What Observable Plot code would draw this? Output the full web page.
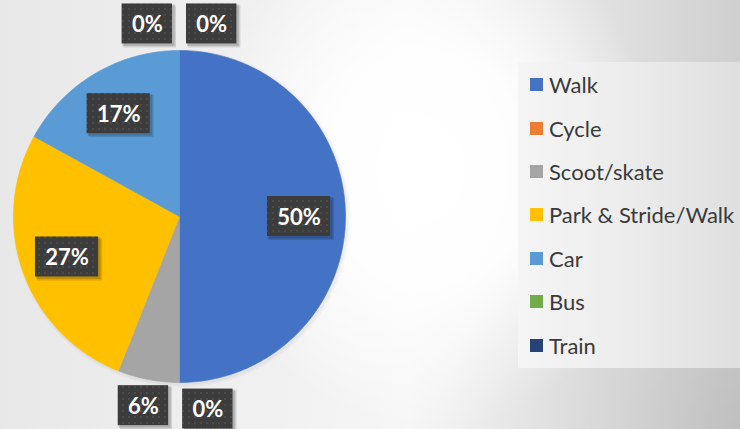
<!DOCTYPE html>
<html>
<head>
<meta charset="utf-8">
<script src="https://cdn.jsdelivr.net/npm/d3@7"></script>
<script src="https://cdn.jsdelivr.net/npm/@observablehq/plot@0.6"></script>
<style>
  html, body { margin: 0; padding: 0; }
  #wrap {
    position: relative; width: 740px; height: 429px; overflow: hidden;
    background:
      radial-gradient(ellipse 230px 260px at 430px 170px, rgba(255,255,255,1) 0%, rgba(255,255,255,0.9) 45%, rgba(255,255,255,0) 100%),
      linear-gradient(to right, #e8e8e8 0%, #f0f0f0 35%, #f6f6f6 55%, #dedede 85%, #cfcfcf 100%);
  }
  #wrap::after {
    content: ""; position: absolute; left: 0; top: 0; width: 740px; height: 429px; pointer-events: none;
    background: radial-gradient(ellipse 300px 260px at 740px 429px, rgba(0,0,0,0.08) 0%, rgba(0,0,0,0) 100%);
  }
  #chart svg { display: block; background: transparent !important; }
  #legend {
    position: absolute; left: 518px; top: 62px; width: 222px; height: 306px;
    background: linear-gradient(to right, #f5f5f5 0%, #ececec 50%, #dfdfdf 100%);
    box-sizing: border-box; padding: 1px 0 0 12px; z-index: 1;
  }
  #legend .lg-swatches, #legend .lg-swatches-wrap, #legend > div {
    display: flex !important; flex-direction: column !important; align-items: flex-start !important;
    margin: 0 !important; min-height: 0 !important;
  }
  #legend .lg-swatch {
    display: flex !important; align-items: center !important; height: 43.4px; margin: 0 !important;
    font-family: Lato, "Open Sans", sans-serif !important; font-size: 22px !important; color: #3a3a3a !important;
    white-space: nowrap;
  }
  #legend .lg-swatch svg { margin-right: 6px !important; flex-shrink: 0; }
</style>
</head>
<body>
<div id="wrap">
  <div id="chart"></div>
  <div id="legend"></div>
</div>
<script>
// ---- data ----
const categories = ["Walk", "Cycle", "Scoot/skate", "Park & Stride/Walk", "Car", "Bus", "Train"];
const values = [50, 0, 6, 27, 17, 0, 0];
const colors = ["#4472c4", "#ed7d31", "#a5a5a5", "#ffc000", "#5b9bd5", "#70ad47", "#264478"];
const percentLabels = ["50%", "0%", "6%", "27%", "17%", "0%", "0%"];

// ---- layout ----
const W = 740, H = 429;
const cx = 179, cy = 216, R = 166;        // pixel centre and radius of the pie
const insideR = 0.72, outsideR = 1.16;   // label radii (in pie radii)
const boxH = 40, gap = 14;

const total = d3.sum(values);
const cum = d3.cumsum(values);
const slices = categories.map((c, i) => {
  const a0 = 2 * Math.PI * (cum[i] - values[i]) / total;
  const a1 = 2 * Math.PI * cum[i] / total;
  return {cat: c, value: values[i], label: percentLabels[i], a0, a1, mid: (a0 + a1) / 2};
});

// polygon outline of each slice (centre + arc), in pie-radius units
const slicePts = [];
for (const s of slices) {
  if (s.value <= 0) continue;
  const n = Math.max(2, Math.ceil((s.a1 - s.a0) / (Math.PI / 180)));
  slicePts.push({cat: s.cat, x: 0, y: 0});
  for (let k = 0; k <= n; ++k) {
    const a = s.a0 + (s.a1 - s.a0) * k / n;
    slicePts.push({cat: s.cat, x: Math.sin(a), y: Math.cos(a)});
  }
  slicePts.push({cat: s.cat, x: 0, y: 0});
}

// label placement: big slices inside, small ones outside; spread overlapping zero labels
const boxW = (t) => (t.length - 1) * 12.8 + 17.6 + 20;
const labels = slices.map(s => {
  const inside = s.value >= 10;
  const r = inside ? insideR : outsideR;
  return {...s, inside, px: R * r * Math.sin(s.mid), py: -R * r * Math.cos(s.mid), w: boxW(s.label)};
});
const placed = labels.filter(l => l.inside || l.value > 0);
const zeros = labels.filter(l => !l.inside && l.value === 0);
const clusters = d3.groups(zeros, l => Math.round(l.mid * 1000));
for (const [, cl] of clusters) {
  const n = cl.length;
  const step = cl[0].w + gap;
  cl.forEach((l, k) => { l.px += (k - (n - 1) / 2) * step; });
  for (const p of placed) {
    for (const l of cl) {
      if (Math.abs(l.px - p.px) < (l.w + p.w) / 2 + gap && Math.abs(l.py - p.py) < boxH) {
        const dir = l.px >= p.px ? 1 : -1;
        const target = p.px + dir * ((l.w + p.w) / 2 + gap);
        const shift = target - l.px;
        cl.forEach(m => { m.px += shift; });
      }
    }
  }
  placed.push(...cl);
}
const labelData = labels.map(l => ({
  label: l.label,
  x: l.px / R, y: -l.py / R,
  x1: (l.px - l.w / 2) / R, x2: (l.px + l.w / 2) / R,
  y1: (-l.py - boxH / 2) / R, y2: (-l.py + boxH / 2) / R
}));

const defs = () => {
  const d = d3.create("svg:defs");
  const p = d.append("pattern").attr("id", "dots").attr("width", 6).attr("height", 6)
    .attr("patternUnits", "userSpaceOnUse");
  p.append("rect").attr("width", 6).attr("height", 6).attr("fill", "#3c3c3c");
  p.append("rect").attr("x", 2).attr("y", 2).attr("width", 2).attr("height", 2).attr("fill", "#4c4c4c");
  return d.node();
};

const unit = 1 / R;
const chart = Plot.plot({
  width: W, height: H,
  margin: 0,
  x: {domain: [-cx / R, (W - cx) / R], axis: null},
  y: {domain: [-(H - cy) / R, cy / R], axis: null},
  color: {domain: categories, range: colors},
  style: {background: "transparent"},
  marks: [
    defs,
    Plot.dot([{x: 0.012, y: -0.012}], {x: "x", y: "y", r: R + 3, fill: "#000", fillOpacity: 0.025, stroke: "none"}),
    Plot.dot([{x: 0.01, y: -0.01}], {x: "x", y: "y", r: R + 1.5, fill: "#000", fillOpacity: 0.03, stroke: "none"}),
    Plot.line(slicePts, {x: "x", y: "y", z: "cat", fill: "cat", stroke: "cat", strokeWidth: 0.6, curve: "linear"}),
    // label box shadows
    Plot.rect(labelData, {x1: d => d.x1 + 2 * unit, x2: d => d.x2 + 4 * unit, y1: d => d.y1 - 4 * unit, y2: d => d.y2 - 2 * unit, fill: "#000", fillOpacity: 0.12}),
    Plot.rect(labelData, {x1: d => d.x1 + 1 * unit, x2: d => d.x2 + 2.5 * unit, y1: d => d.y1 - 2.5 * unit, y2: d => d.y2 - 1 * unit, fill: "#000", fillOpacity: 0.15}),
    // label boxes
    Plot.rect(labelData, {x1: "x1", x2: "x2", y1: "y1", y2: "y2", fill: "url(#dots)"}),
    Plot.text(labelData, {x: "x", y: "y", text: "label", fill: "white", fontSize: 22, fontWeight: "bold", fontFamily: "Lato, 'Open Sans', sans-serif", dy: 1})
  ]
});
document.getElementById("chart").appendChild(chart);

const legend = Plot.legend({
  color: {domain: categories, range: colors},
  legend: "swatches",
  swatchSize: 13,
  className: "lg"
});
document.getElementById("legend").appendChild(legend);
</script>
</body>
</html>
